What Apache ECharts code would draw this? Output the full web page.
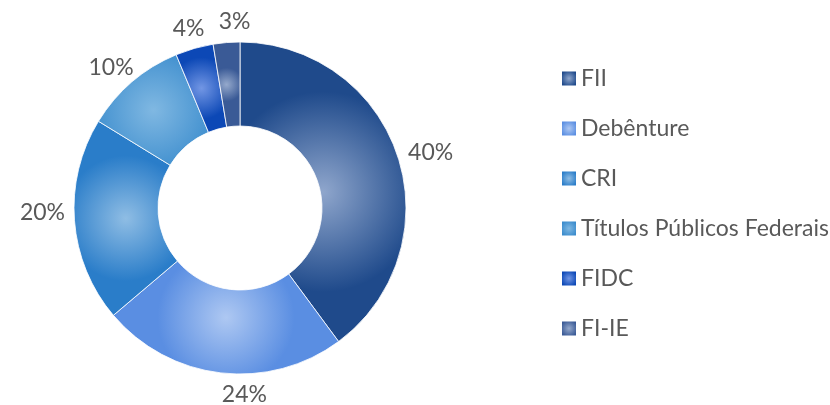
<!DOCTYPE html>
<html>
<head>
<meta charset="utf-8">
<script src="https://cdn.jsdelivr.net/npm/echarts@6/dist/echarts.min.js"></script>
<style>
  html, body { margin: 0; padding: 0; background: #fff; }
  #chart { width: 830px; height: 405px; }
</style>
</head>
<body>
<div id="chart"></div>
<script>
const categories = ['FII', 'Debênture', 'CRI', 'Títulos Públicos Federais', 'FIDC', 'FI-IE'];
const values = [40, 24, 20, 10, 3.7, 2.6];
// [centre, edge] of each slice's radial shading
const shades = [
  ['#8fa6cc', '#1f4a8b'],
  ['#aec8f2', '#5a8ee2'],
  ['#8fbde4', '#2a7dc9'],
  ['#80b8e2', '#3b8ccd'],
  ['#7296e4', '#0c48b6'],
  ['#95a9cc', '#3a5a96']
];
// small angular nudges (deg) so labels sit where the original placed them
const labelNudge = [2, -8, 3, -2, 0, 3];

const CX = 240, CY = 208, R_IN = 82, R_OUT = 166, LABEL_GAP = 9;

const total = values.reduce((a, b) => a + b, 0);
const midAngles = [];
values.reduce((acc, v) => {
  midAngles.push(((acc + v / 2) / total) * 2 * Math.PI);
  return acc + v;
}, 0);

const radial = (c) => ({
  type: 'radial', x: 0.5, y: 0.5, r: 0.6,
  colorStops: [{ offset: 0, color: c[0] }, { offset: 1, color: c[1] }]
});

const chart = echarts.init(document.getElementById('chart'));
const textColor = '#595959';
const font = 'Lato, "Open Sans", sans-serif';

chart.setOption({
  animation: false,
  legend: {
    orient: 'vertical',
    left: 562,
    top: 67,
    padding: 0,
    itemWidth: 14,
    itemHeight: 14,
    itemGap: 27,
    icon: 'rect',
    itemStyle: { borderWidth: 0 },
    textStyle: { color: textColor, fontSize: 23, fontFamily: font, padding: [0, 0, 0, 0] },
    data: categories
  },
  series: [
    {
      type: 'pie',
      center: [CX, CY],
      radius: [R_IN, R_OUT],
      startAngle: 90,
      clockwise: true,
      itemStyle: { borderColor: 'rgba(255,255,255,0.8)', borderWidth: 1 },
      label: {
        show: true,
        position: 'outside',
        formatter: (p) => Math.round(p.value) + '%',
        color: textColor,
        fontSize: 23,
        fontFamily: font,
        overflow: 'none'
      },
      labelLine: { show: false },
      labelLayout: (p) => {
        const a = midAngles[p.dataIndex] + (labelNudge[p.dataIndex] * Math.PI) / 180;
        const s = Math.sin(a), c = -Math.cos(a);
        const hw = p.labelRect.width / 2, hh = p.labelRect.height / 2;
        const ext = Math.min(Math.abs(s) > 1e-6 ? hw / Math.abs(s) : Infinity,
                             Math.abs(c) > 1e-6 ? hh / Math.abs(c) : Infinity);
        const d = R_OUT + LABEL_GAP + ext;
        return { x: CX + s * d, y: CY + c * d, align: 'center', verticalAlign: 'middle' };
      },
      emphasis: { disabled: true },
      data: categories.map((name, i) => ({
        name,
        value: values[i],
        itemStyle: { color: radial(shades[i]) }
      }))
    }
  ]
});
</script>
</body>
</html>
